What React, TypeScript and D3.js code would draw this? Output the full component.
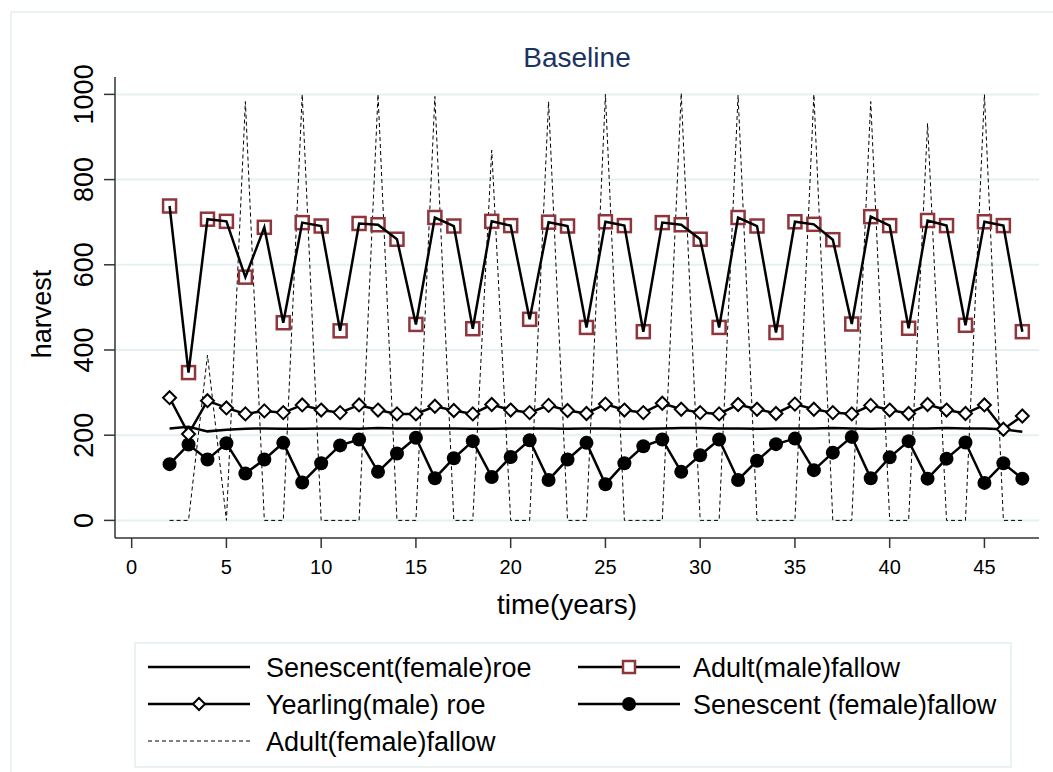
import React from "react";
import * as d3 from "d3";

const years = [2,3,4,5,6,7,8,9,10,11,12,13,14,15,16,17,18,19,20,21,22,23,24,25,26,27,28,29,30,31,32,33,34,35,36,37,38,39,40,41,42,43,44,45,46,47];

const senescentRoe = [216,220,209,213,215,216,215,215,216,216,215,217,216,216,216,216,215,215,216,216,216,215,216,216,215,215,216,217,217,216,216,215,216,216,216,217,216,215,216,216,216,217,216,216,214,208];

const adultMaleFallow = [738,347,707,702,571,688,464,699,691,445,697,694,660,460,711,691,450,702,692,472,700,691,453,701,692,443,699,694,660,453,711,691,441,701,695,659,461,713,692,451,704,692,458,701,692,443];

const yearlingMaleRoe = [288,203,281,264,250,257,253,271,259,253,271,259,250,250,268,258,250,272,259,253,270,258,251,273,259,253,275,261,253,250,272,261,251,273,261,253,250,270,259,251,272,259,251,271,214,245];

const senescentFemaleFallow = [132,178,143,181,110,143,182,89,134,176,190,114,157,194,99,146,186,102,149,188,95,143,182,85,134,174,190,114,153,190,95,140,179,192,118,159,196,99,148,186,98,145,183,88,134,98];

const adultFemaleFallow = [0,0,388,0,983,0,0,1000,0,0,0,1000,0,0,995,0,0,869,0,0,983,0,0,1000,0,0,0,1003,0,0,998,0,0,0,1000,0,0,983,0,0,932,0,0,1000,0,0];

const xTicks = [0,5,10,15,20,25,30,35,40,45];
const yTicks = [0,200,400,600,800,1000];

const legendLabels = [
  "Senescent(female)roe",
  "Adult(male)fallow",
  "Yearling(male) roe",
  "Senescent (female)fallow",
  "Adult(female)fallow",
];

const W = 1053, H = 772;
const FONT = "'Liberation Sans', Arial, Helvetica, sans-serif";
const GRID = "#e6eff2";
const RED = "#8f353c";

export default function App() {
  const x = d3.scaleLinear().domain([-0.88, 47.88]).range([115, 1039]);
  const y = d3.scaleLinear().domain([-41.3, 1040.8]).range([538, 77]);

  const line = (vals: number[]) =>
    d3.line<number>().x((_, i) => x(years[i])).y((d) => y(d))(vals) || "";

  const diamond = (cx: number, cy: number, r: number) =>
    `M${cx},${cy - r}L${cx + r},${cy}L${cx},${cy + r}L${cx - r},${cy}Z`;

  const lgRows = [667, 704, 741];
  const col1Key = [148, 250];
  const col2Key = [578, 680];
  const LF = 27;

  return (
    <svg width={W} height={H} style={{ position: "absolute", left: 0, top: 0, background: "#fff" }}>
      <rect x={11} y={12} width={1200} height={900} fill="#fff" stroke="#e3eef0" strokeWidth={1.5} />
      <text x={577} y={67} textAnchor="middle" fontFamily={FONT} fontSize={28} fill="#1c3362">Baseline</text>

      {yTicks.map((t) => (
        <line key={"g" + t} x1={116} x2={1039} y1={y(t)} y2={y(t)} stroke={GRID} strokeWidth={2} />
      ))}

      <line x1={115} x2={115} y1={77} y2={538} stroke="#333" strokeWidth={1.5} />
      <line x1={115} x2={1039} y1={538} y2={538} stroke="#333" strokeWidth={1.5} />
      {yTicks.map((t) => (
        <g key={"yt" + t}>
          <line x1={104} x2={115} y1={y(t)} y2={y(t)} stroke="#333" strokeWidth={1.5} />
          <text
            transform={`translate(93,${y(t)}) rotate(-90)`}
            textAnchor="middle"
            fontFamily={FONT}
            fontSize={27}
            fill="#000"
          >
            {t}
          </text>
        </g>
      ))}
      {xTicks.map((t) => (
        <g key={"xt" + t}>
          <line x1={x(t)} x2={x(t)} y1={538} y2={548} stroke="#333" strokeWidth={1.5} />
          <text x={x(t)} y={574} textAnchor="middle" fontFamily={FONT} fontSize={20} fill="#000">
            {t}
          </text>
        </g>
      ))}
      <text x={567} y={614} textAnchor="middle" fontFamily={FONT} fontSize={28} fill="#000">time(years)</text>
      <text transform={`translate(51,314) rotate(-90)`} textAnchor="middle" fontFamily={FONT} fontSize={27} fill="#000">harvest</text>

      <path d={line(adultFemaleFallow)} fill="none" stroke="#000" strokeWidth={1} strokeDasharray="4,3" />
      <path d={line(senescentRoe)} fill="none" stroke="#000" strokeWidth={2.5} />

      <path d={line(senescentFemaleFallow)} fill="none" stroke="#000" strokeWidth={2.5} />
      {senescentFemaleFallow.map((v, i) => (
        <circle key={"c" + i} cx={x(years[i])} cy={y(v)} r={7} fill="#000" />
      ))}

      <path d={line(yearlingMaleRoe)} fill="none" stroke="#000" strokeWidth={2.5} />
      {yearlingMaleRoe.map((v, i) => (
        <path key={"d" + i} d={diamond(x(years[i]), y(v), 6.5)} fill="#fff" stroke="#000" strokeWidth={2} />
      ))}

      {adultMaleFallow.map((v, i) => (
        <rect key={"s" + i} x={x(years[i]) - 6.5} y={y(v) - 6.5} width={13} height={13} fill="#fff" stroke={RED} strokeWidth={2.5} />
      ))}
      <path d={line(adultMaleFallow)} fill="none" stroke="#000" strokeWidth={2.5} />

      <rect x={135} y={643} width={876} height={124} fill="#fff" stroke="#e3eef0" strokeWidth={1.5} />
      <line x1={col1Key[0]} x2={col1Key[1]} y1={lgRows[0]} y2={lgRows[0]} stroke="#000" strokeWidth={2.5} />
      <text x={266} y={lgRows[0] + 10} fontFamily={FONT} fontSize={LF}>{legendLabels[0]}</text>
      <line x1={col2Key[0]} x2={col2Key[1]} y1={lgRows[0]} y2={lgRows[0]} stroke="#000" strokeWidth={2.5} />
      <rect x={(col2Key[0] + col2Key[1]) / 2 - 6} y={lgRows[0] - 6} width={12} height={12} fill="#fff" stroke={RED} strokeWidth={2.5} />
      <text x={693} y={lgRows[0] + 10} fontFamily={FONT} fontSize={LF}>{legendLabels[1]}</text>
      <line x1={col1Key[0]} x2={col1Key[1]} y1={lgRows[1]} y2={lgRows[1]} stroke="#000" strokeWidth={2.5} />
      <path d={diamond((col1Key[0] + col1Key[1]) / 2, lgRows[1], 6)} fill="#fff" stroke="#000" strokeWidth={2} />
      <text x={266} y={lgRows[1] + 10} fontFamily={FONT} fontSize={LF}>{legendLabels[2]}</text>
      <line x1={col2Key[0]} x2={col2Key[1]} y1={lgRows[1]} y2={lgRows[1]} stroke="#000" strokeWidth={2.5} />
      <circle cx={(col2Key[0] + col2Key[1]) / 2} cy={lgRows[1]} r={7} fill="#000" />
      <text x={693} y={lgRows[1] + 10} fontFamily={FONT} fontSize={LF}>{legendLabels[3]}</text>
      <line x1={col1Key[0]} x2={col1Key[1]} y1={lgRows[2]} y2={lgRows[2]} stroke="#000" strokeWidth={1} strokeDasharray="4,3" />
      <text x={266} y={lgRows[2] + 10} fontFamily={FONT} fontSize={LF}>{legendLabels[4]}</text>
    </svg>
  );
}
